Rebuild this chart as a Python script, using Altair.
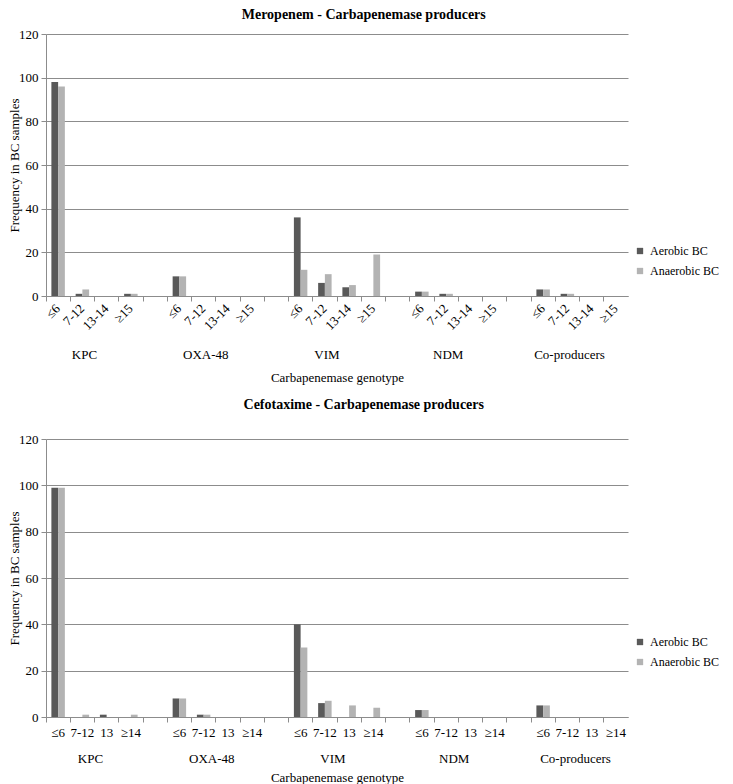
import altair as alt
import pandas as pd

groups = ["KPC", "OXA-48", "VIM", "NDM", "Co-producers"]
series_names = ["Aerobic BC", "Anaerobic BC"]

mero_bins = ["≤6", "7-12", "13-14", "≥15"]
mero_aerobic = [98, 1, 0, 1, 9, 0, 0, 0, 36, 6, 4, 0, 2, 1, 0, 0, 3, 1, 0, 0]
mero_anaerobic = [96, 3, 0, 1, 9, 0, 0, 0, 12, 10, 5, 19, 2, 1, 0, 0, 3, 1, 0, 0]

cefo_bins = ["≤6", "7-12", "13", "≥14"]
cefo_aerobic = [99, 0, 1, 0, 8, 1, 0, 0, 40, 6, 0, 0, 3, 0, 0, 0, 5, 0, 0, 0]
cefo_anaerobic = [99, 1, 0, 1, 8, 1, 0, 0, 30, 7, 5, 4, 3, 0, 0, 0, 5, 0, 0, 0]

y_ticks = [0, 20, 40, 60, 80, 100, 120]

FONT = "Liberation Serif"
AER = "#595959"
ANA = "#b3b3b3"
LINE = "#8c8c8c"
W = 582


def panel(title, bins, aer, ana, H, rotate, group_dy, group_dx, title_y, legend_y, title_off):
    rows, domain = [], []
    for gi, g in enumerate(groups):
        for bi, b in enumerate(bins):
            key = f"{g}|{b}"
            domain.append(key)
            rows.append({"cat": key, "series": series_names[0], "value": aer[gi * 4 + bi]})
            rows.append({"cat": key, "series": series_names[1], "value": ana[gi * 4 + bi]})
        if gi < len(groups) - 1:
            domain.append(f"{g}|")
    df = pd.DataFrame(rows)
    glab = pd.DataFrame({"cat": [f"{g}|{bins[2]}" for g in groups], "label": groups})

    axis_kw = dict(
        title="Carbapenemase genotype",
        titleFont=FONT, titleFontSize=13, titleFontWeight="normal", titleColor="black",
        titleY=title_y, titleBaseline="middle",
        bandPosition=0,
        labelExpr="split(datum.value, '|')[1]",
        labelFont=FONT, labelFontSize=13, labelColor="black", labelOverlap=False,
        domainColor=LINE, tickColor=LINE, tickSize=5,
    )
    if rotate:
        axis_kw.update(labelAngle=315, labelAlign="right", labelBaseline="middle", labelPadding=5)
    else:
        axis_kw.update(labelAngle=0, labelAlign="center", labelBaseline="top", labelPadding=4)

    xscale = alt.Scale(domain=domain, paddingInner=0, paddingOuter=0)

    bars = alt.Chart(df).mark_bar().encode(
        x=alt.X("cat:N", scale=xscale, axis=alt.Axis(**axis_kw)),
        xOffset=alt.XOffset("series:N", sort=series_names,
                            scale=alt.Scale(paddingInner=0, paddingOuter=0.8)),
        y=alt.Y("value:Q", scale=alt.Scale(domain=[0, 120], nice=False),
                axis=alt.Axis(values=y_ticks, grid=True, gridColor=LINE,
                              domainColor=LINE, tickColor=LINE, tickSize=5,
                              labelFont=FONT, labelFontSize=13, labelColor="black",
                              labelPadding=3,
                              title="Frequency in BC samples", titleFont=FONT,
                              titleFontSize=13, titleFontWeight="normal",
                              titleColor="black", titlePadding=-3)),
        color=alt.Color("series:N", sort=series_names,
                        scale=alt.Scale(domain=series_names, range=[AER, ANA]),
                        legend=alt.Legend(title=None, orient="none", legendX=W + 6,
                                          legendY=legend_y, symbolType="square",
                                          symbolSize=40, symbolStrokeWidth=0,
                                          labelFont=FONT, labelFontSize=12,
                                          labelColor="black", rowPadding=8)),
    )

    labels = alt.Chart(glab).mark_text(font=FONT, fontSize=13, color="black",
                                        baseline="middle", dx=group_dx).encode(
        x=alt.X("cat:N", scale=xscale, bandPosition=0),
        y=alt.value(H + group_dy),
        text="label:N",
    )

    return alt.layer(bars, labels).properties(
        width=W, height=H,
        title=alt.TitleParams(title, font=FONT, fontSize=14, fontWeight="bold",
                              color="black", frame="bounds", anchor="middle",
                              offset=title_off),
    )


top = panel("Meropenem - Carbapenemase producers", mero_bins, mero_aerobic,
            mero_anaerobic, 262, True, 59, -10, 81, 211, 6)
bottom = panel("Cefotaxime - Carbapenemase producers", cefo_bins, cefo_aerobic,
               cefo_anaerobic, 278, False, 42, -4, 60, 197, 21)

chart = alt.vconcat(top, bottom, spacing=14).resolve_legend(
    color="independent"
).properties(
    padding={"left": 0, "top": 0, "right": 0, "bottom": 0}
).configure_view(stroke=None)

chart.save("out.html", embed_options={"renderer": "svg", "actions": False})
